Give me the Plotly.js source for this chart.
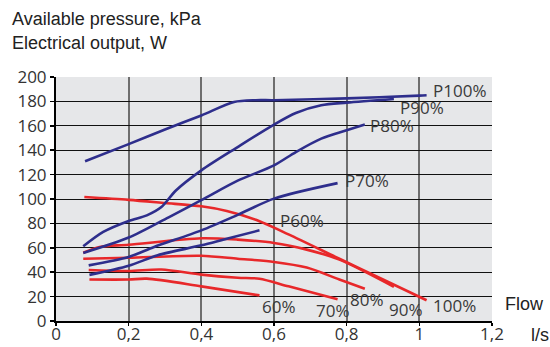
<!DOCTYPE html>
<html>
<head>
<meta charset="utf-8">
<script src="https://cdn.plot.ly/plotly-3.0.1.min.js"></script>
<style>html,body{margin:0;padding:0;background:#fff;}#chart{width:550px;height:347px;}</style>
</head>
<body>
<div id="chart"></div>
<script>
// Pressure curves (kPa) vs flow (l/s)
const flowP100 = [0.08, 0.2, 0.3, 0.4, 0.49, 0.55, 0.6, 0.8, 1.0, 1.02];
const presP100 = [131, 145, 157, 168.5, 179.5, 181, 181, 182.5, 184.7, 185];
const flowP90 = [0.075, 0.13, 0.2, 0.25, 0.29, 0.33, 0.4, 0.5, 0.6, 0.66, 0.73, 0.8, 0.93];
const presP90 = [61.2, 73, 82, 86.6, 93.4, 107, 123.5, 142.6, 161, 170.5, 176.8, 179, 182];
const flowP80 = [0.075, 0.2, 0.31, 0.4, 0.5, 0.6, 0.66, 0.73, 0.8, 0.85];
const presP80 = [55.8, 68.4, 85, 99, 115, 127.6, 138.5, 149.5, 156.3, 161];
const flowP70 = [0.09, 0.2, 0.27, 0.4, 0.5, 0.6, 0.775];
const presP70 = [45.6, 52.5, 60.7, 74.3, 87, 100.3, 113];
const flowP60 = [0.092, 0.2, 0.28, 0.4, 0.47, 0.56];
const presP60 = [37.8, 45.3, 53.9, 62, 67.5, 74.3];

// Electrical output curves (W) vs flow (l/s)
const flowE100 = [0.078, 0.2, 0.3, 0.4, 0.47, 0.55, 0.64, 0.78, 0.9, 1.02];
const powE100 = [101.6, 99.3, 96.7, 94, 90.2, 83, 71, 51, 34, 17];
const flowE90 = [0.075, 0.12, 0.2, 0.4, 0.5, 0.6, 0.69, 0.78, 0.93];
const powE90 = [56, 60.7, 62.5, 67.8, 66.7, 64, 58.5, 50.3, 28];
const flowE80 = [0.075, 0.2, 0.4, 0.5, 0.6, 0.69, 0.78, 0.85];
const powE80 = [51, 51.8, 53.5, 51, 48.4, 43.8, 34, 26.5];
const flowE70 = [0.09, 0.2, 0.29, 0.4, 0.5, 0.56, 0.64, 0.775];
const powE70 = [41.8, 41, 42.2, 38, 35.5, 34.7, 28.4, 17.8];
const flowE60 = [0.092, 0.2, 0.25, 0.4, 0.56];
const powE60 = [34, 34, 34.7, 28.4, 21];

// Curve labels
const labelText = ['P100%', 'P90%', 'P80%', 'P70%', 'P60%', '60%', '70%', '80%', '90%', '100%'];
const labelX = [1.032, 0.94, 0.858, 0.79, 0.612, 0.562, 0.71, 0.805, 0.91, 1.032];
const labelY = [189, 174.6, 160.4, 115.3, 82, 12, 8.8, 17.5, 9.3, 12.9];

const xTicks = [0, 0.2, 0.4, 0.6, 0.8, 1, 1.2];
const yTicks = [0, 20, 40, 60, 80, 100, 120, 140, 160, 180, 200];

const BLUE = '#2e2e8c';
const RED = '#e8282a';

function curve(x, y, color) {
  return {x: x, y: y, type: 'scatter', mode: 'lines',
    line: {color: color, width: 2.6, shape: 'spline', smoothing: 0.8},
    hoverinfo: 'skip', showlegend: false};
}

const data = [
  curve(flowE100, powE100, RED),
  curve(flowE90, powE90, RED),
  curve(flowE80, powE80, RED),
  curve(flowE70, powE70, RED),
  curve(flowE60, powE60, RED),
  curve(flowP100, presP100, BLUE),
  curve(flowP90, presP90, BLUE),
  curve(flowP80, presP80, BLUE),
  curve(flowP70, presP70, BLUE),
  curve(flowP60, presP60, BLUE)
];

const annotations = labelText.map((t, i) => ({
  x: labelX[i], y: labelY[i], xref: 'x', yref: 'y', text: t,
  showarrow: false, xanchor: 'left', yanchor: 'middle',
  font: {family: 'Open Sans', size: 17, color: '#3a3a3a'}
}));

const titleFont = {family: 'Liberation Sans, Arial', size: 18, color: '#222'};
annotations.push(
  {x: -0.1055, y: 1.2377, xref: 'paper', yref: 'paper', text: 'Available pressure, kPa',
   showarrow: false, xanchor: 'left', yanchor: 'middle', font: titleFont},
  {x: -0.1055, y: 1.139, xref: 'paper', yref: 'paper', text: 'Electrical output, W',
   showarrow: false, xanchor: 'left', yanchor: 'middle', font: titleFont},
  {x: 1.0245, y: 0.0697, xref: 'paper', yref: 'paper', text: 'Flow',
   showarrow: false, xanchor: 'left', yanchor: 'middle', font: titleFont},
  {x: 1.085, y: -0.057, xref: 'paper', yref: 'paper', text: 'l/s',
   showarrow: false, xanchor: 'left', yanchor: 'middle', font: titleFont}
);

const layout = {
  width: 550, height: 347,
  margin: {l: 56, r: 58, t: 77, b: 26, pad: 0},
  paper_bgcolor: '#ffffff',
  plot_bgcolor: '#e6e7e9',
  separators: ', ',
  showlegend: false,
  xaxis: {
    range: [0, 1.2], tickvals: xTicks, ticks: 'outside', ticklen: 3, tickwidth: 1.5,
    tickcolor: '#000', showline: true, linecolor: '#000', linewidth: 2,
    showgrid: true, gridcolor: '#6e6e6e', gridwidth: 2, zeroline: false,
    ticklabelstandoff: -6,
    tickfont: {family: 'Open Sans', size: 17, color: '#333'}, fixedrange: true
  },
  yaxis: {
    range: [0, 200], tickvals: yTicks, ticks: 'outside', ticklen: 4, tickwidth: 1.5,
    tickcolor: '#000', showline: true, linecolor: '#000', linewidth: 2,
    showgrid: true, gridcolor: '#111', gridwidth: 1, zeroline: false,
    tickfont: {family: 'Open Sans', size: 17, color: '#333'}, fixedrange: true
  },
  annotations: annotations
};

Plotly.newPlot('chart', data, layout, {staticPlot: true, displayModeBar: false});
</script>
</body>
</html>
